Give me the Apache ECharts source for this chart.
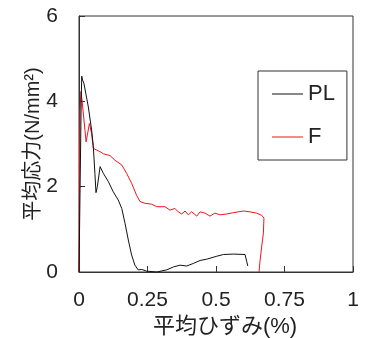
<!DOCTYPE html>
<html><head><meta charset="utf-8">
<script src="https://cdn.jsdelivr.net/npm/echarts@6/dist/echarts.min.js"></script>
<style>html,body{margin:0;padding:0;background:#fff}#c{width:365px;height:338px}</style>
</head><body><div id="c"></div>
<script>
var seriesNames = ['PL', 'F'];
var xTicks = [0, 0.25, 0.5, 0.75, 1];
var yTicks = [0, 2, 4, 6];
var plStrain = [0, 0.004, 0.008, 0.010, 0.013, 0.018, 0.034, 0.046, 0.052, 0.058, 0.062, 0.067, 0.077, 0.089, 0.107, 0.125, 0.143, 0.156, 0.168, 0.180, 0.192, 0.204, 0.216, 0.229, 0.247, 0.284, 0.320, 0.345, 0.369, 0.393, 0.417, 0.442, 0.466, 0.503, 0.527, 0.564, 0.606, 0.612, 0.612, 0.616];
var plStress = [0, 2.0, 4.0, 4.59, 4.50, 4.42, 3.87, 3.33, 2.97, 2.31, 1.86, 2.00, 2.47, 2.31, 2.12, 1.88, 1.69, 1.49, 1.14, 0.75, 0.40, 0.16, 0.05, 0.06, 0.02, 0.0, 0.05, 0.12, 0.16, 0.14, 0.20, 0.27, 0.30, 0.37, 0.41, 0.42, 0.41, 0.40, 0.25, 0.14];
var fStrain = [0, 0.002, 0.004, 0.007, 0.011, 0.026, 0.038, 0.046, 0.052, 0.064, 0.077, 0.089, 0.113, 0.131, 0.156, 0.174, 0.192, 0.210, 0.223, 0.241, 0.265, 0.284, 0.314, 0.332, 0.350, 0.362, 0.375, 0.387, 0.399, 0.411, 0.430, 0.442, 0.460, 0.478, 0.496, 0.515, 0.539, 0.563, 0.600, 0.624, 0.648, 0.667, 0.675, 0.673, 0.667, 0.661, 0.657];
var fStress = [0, 2.5, 3.8, 4.23, 4.03, 3.05, 3.48, 3.25, 2.90, 2.86, 2.82, 2.77, 2.73, 2.62, 2.51, 2.31, 2.08, 1.80, 1.65, 1.61, 1.59, 1.53, 1.53, 1.45, 1.49, 1.41, 1.36, 1.43, 1.34, 1.41, 1.31, 1.41, 1.38, 1.31, 1.38, 1.34, 1.36, 1.39, 1.43, 1.41, 1.38, 1.33, 1.26, 0.91, 0.61, 0.28, 0];

function pairs(xs, ys){ return xs.map(function(x,i){ return [x, ys[i]]; }); }

var chart = echarts.init(document.getElementById('c'), null, {renderer:'canvas'});
var font = 'Liberation Sans, Arial, sans-serif';
var titleFont = 'Liberation Sans, Noto Sans CJK JP, sans-serif';
var axisCol = '#333';
chart.setOption({
  animation: false,
  textStyle: {fontFamily: font},
  grid: {left: 79, right: 12, top: 16, bottom: 66, show: true, borderColor: axisCol, borderWidth: 1, backgroundColor: 'transparent', outerBoundsMode: 'none', containLabel: false},
  legend: {
    orient: 'vertical', left: 258, top: 71,
    borderColor: axisCol, borderWidth: 1,
    padding: [12, 12, 12, 14],
    itemGap: 21, itemWidth: 31, itemHeight: 1, icon: 'rect',
    textStyle: {fontSize: 22, color: '#222', fontFamily: font, lineHeight: 22},
    data: seriesNames
  },
  xAxis: {
    type: 'value', min: xTicks[0], max: xTicks[xTicks.length-1], interval: 0.25,
    name: '平均ひずみ(%)', nameLocation: 'middle', nameGap: 44, nameMoveOverlap: false,
    nameTextStyle: {fontSize: 22, color: '#222', fontFamily: titleFont, padding: [0,0,0,18]},
    axisLine: {show: true, lineStyle: {color: axisCol}},
    axisTick: {show: true, inside: true, length: 6, lineStyle: {color: axisCol}},
    axisLabel: {fontSize: 21, color: '#222', margin: 18},
    splitLine: {show: false}
  },
  yAxis: {
    type: 'value', min: yTicks[0], max: yTicks[yTicks.length-1], interval: 2,
    name: '平均応力(N/mm²)', nameLocation: 'middle', nameGap: 36, nameRotate: 90, nameMoveOverlap: false,
    nameTextStyle: {fontSize: 20, color: '#222', fontFamily: titleFont},
    axisLine: {show: true, lineStyle: {color: axisCol}},
    axisTick: {show: true, inside: true, length: 6, lineStyle: {color: axisCol}},
    axisLabel: {fontSize: 21, color: '#222', margin: 21},
    splitLine: {show: false}
  },
  series: [
    {name: seriesNames[0], type: 'line', data: pairs(plStrain, plStress), symbol: 'none', lineStyle: {color: '#111', width: 1}, itemStyle: {color: '#111'}, z: 3},
    {name: seriesNames[1], type: 'line', data: pairs(fStrain, fStress), symbol: 'none', lineStyle: {color: '#f0141e', width: 1}, itemStyle: {color: '#f0141e'}, z: 2}
  ]
});
</script></body></html>
